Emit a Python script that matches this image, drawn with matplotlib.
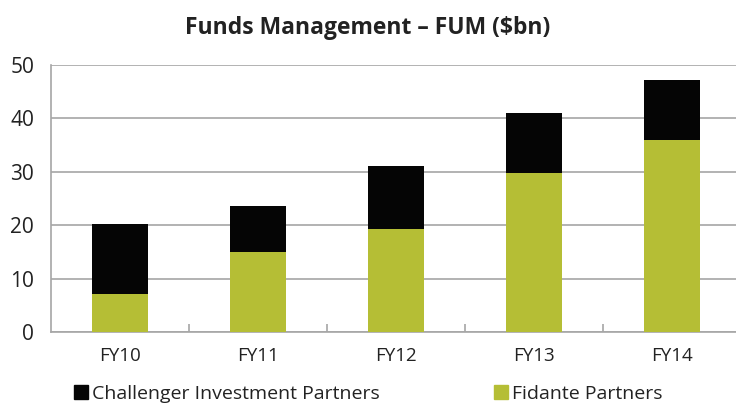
import matplotlib
matplotlib.use("Agg")
from matplotlib import pyplot as plt
from matplotlib.patches import Patch
import numpy as np

years = ["FY10", "FY11", "FY12", "FY13", "FY14"]
fidante = [7.1, 14.9, 19.3, 29.8, 36.0]
challenger = [13.15, 8.7, 11.8, 11.3, 11.1]

GREEN = "#b5be35"
BLACK = "#050505"
GRID = "#a6a6a6"

plt.rcParams["font.family"] = ["Open Sans", "DejaVu Sans"]

fig = plt.figure(figsize=(7.36, 4.05), dpi=100)
ax = fig.add_axes([50.7 / 736, 1 - 332 / 405, 690 / 736, 267 / 405])

x = np.arange(len(years))
ax.bar(x, fidante, width=0.405, color=GREEN, zorder=3)
ax.bar(x, challenger, width=0.405, bottom=fidante, color=BLACK, zorder=3)

ax.set_xlim(-0.5, 4.5)
ax.set_ylim(0, 50)
ax.set_yticks([0, 10, 20, 30, 40, 50])
ax.yaxis.grid(True, color=GRID, linewidth=1.2, zorder=0)
ax.tick_params(axis="y", length=0, labelsize=15, pad=12, colors="#222222")

ax.set_xticks(x)
ax.set_xticklabels(years)
ax.set_xticks(np.arange(0.5, 4.5, 1), minor=True)
ax.tick_params(axis="x", which="major", length=0, labelsize=13.5, pad=11,
               colors="#222222")
ax.tick_params(axis="x", which="minor", direction="in", length=6,
               color=GRID, width=1.2)

for side in ["top", "right"]:
    ax.spines[side].set_visible(False)
ax.spines["left"].set_color(GRID)
ax.spines["bottom"].set_color(GRID)
ax.spines["left"].set_linewidth(1.2)
ax.spines["bottom"].set_linewidth(1.2)

fig.text(0.5, 1 - 28 / 405, "Funds Management \u2013 FUM (\\$bn)",
         ha="center", va="center", fontsize=16.5, fontweight="bold",
         color="#222222")

handles = [Patch(color=BLACK, label="Challenger Investment Partners"),
           Patch(color=GREEN, label="Fidante Partners")]
fig.legend(handles=handles, loc="center left", bbox_to_anchor=(74 / 736, 1 - 394 / 405),
           ncol=2, frameon=False, fontsize=14, handlelength=0.7,
           handleheight=0.7, handletextpad=0.25, columnspacing=5.85,
           borderaxespad=0, borderpad=0, labelcolor="#222222")

fig.savefig("out.png", dpi=100)
